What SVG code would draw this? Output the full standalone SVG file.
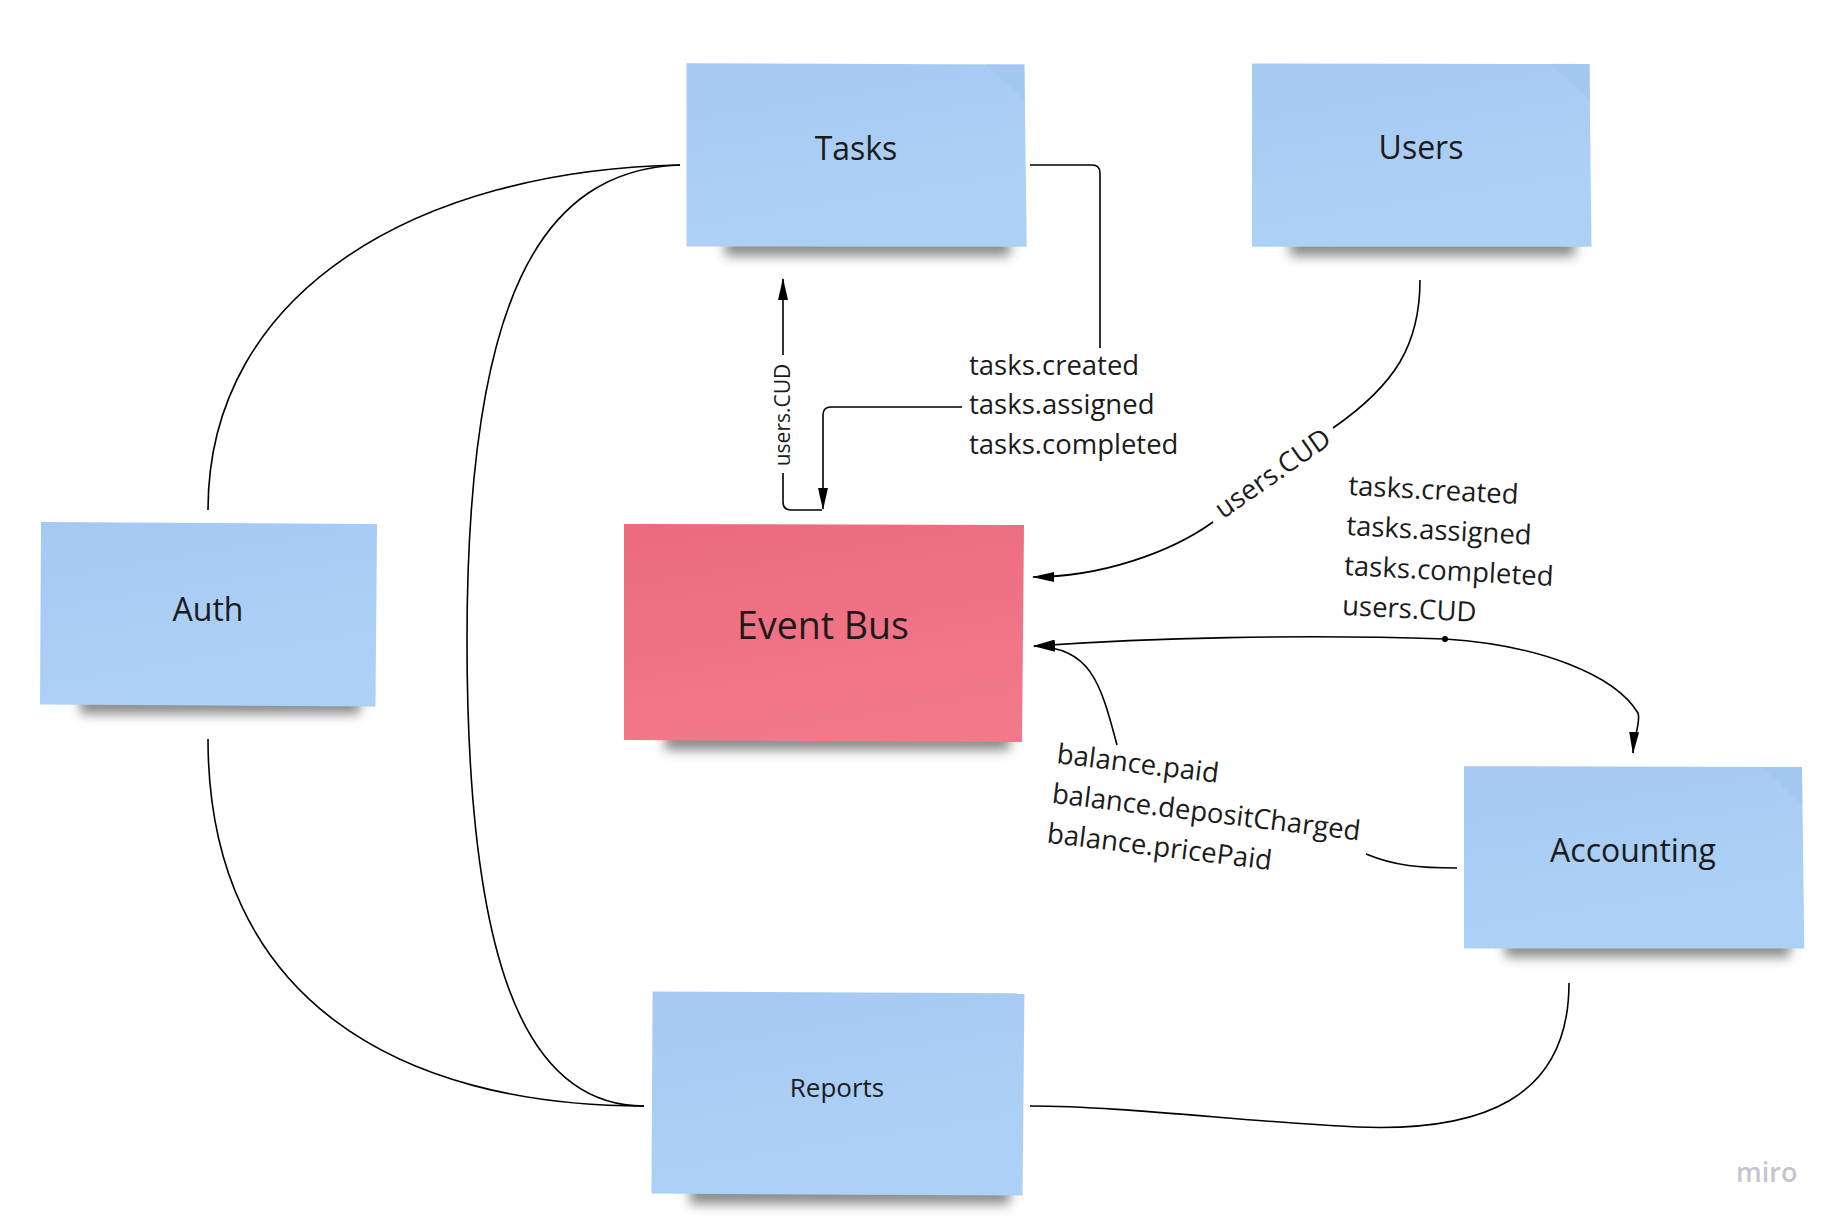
<svg xmlns="http://www.w3.org/2000/svg" width="1837" height="1224" viewBox="0 0 1837 1224">
<style>
.note-b{fill:url(#gB)}
.note-r{fill:url(#gR)}
.fold{fill:#9dc3ee;opacity:.45}
.shadow{fill:#3a3a3a;opacity:.6;filter:url(#blur)}
.title{font-family:"Open Sans","Noto Sans",sans-serif;font-size:32px;fill:#1b1b1b;text-anchor:middle}
.lbl{font-family:"Open Sans","Noto Sans",sans-serif;font-size:27.5px;fill:#1b1b1b}
.conn{fill:none;stroke:#000;stroke-width:1.6}
</style>
<defs>
<linearGradient id="gB" x1="0" y1="0" x2="0.3" y2="1">
<stop offset="0" stop-color="#a5c9f1"/>
<stop offset="1" stop-color="#add1f6"/>
</linearGradient>
<linearGradient id="gR" x1="0" y1="0" x2="0.3" y2="1">
<stop offset="0" stop-color="#ec6a7e"/>
<stop offset="1" stop-color="#f27989"/>
</linearGradient>
<filter id="blur" x="-20%" y="-100%" width="140%" height="300%">
<feGaussianBlur stdDeviation="6"/>
</filter>
<marker id="arr" markerUnits="userSpaceOnUse" viewBox="0 0 22 10" refX="21" refY="5" markerWidth="22" markerHeight="10" orient="auto">
<path d="M0,0 L22,5 L0,10 Z" fill="#000"/>
</marker>
</defs>
<rect width="1837" height="1224" fill="#ffffff"/>

<g id="connectors">
<path class="conn" d="M1030,165 H1092 Q1100,165 1100,173 V348"/>
<path class="conn" d="M962,407 H831 Q823,407 823,415 V509" marker-end="url(#arr)"/>
<path class="conn" d="M822,510 H791 Q783,510 783,502 V473"/>
<path class="conn" d="M783,355 V279" marker-end="url(#arr)"/>
<path class="conn" d="M1420,280 C1420,345 1395,385 1333,428"/>
<path class="conn" d="M1213,522 C1170,553 1100,577 1033,577" marker-end="url(#arr)"/>
<path class="conn" d="M1457,868 C1420,868 1395,866 1366,854"/>
<path class="conn" d="M1117,745 C1100,680 1090,648 1034,646" marker-end="url(#arr)"/>
<path class="conn" d="M1445,639 C1300,634 1150,638 1034,646" marker-end="url(#arr)"/>
<path class="conn" d="M1445,639 C1540,645 1615,675 1638,713 C1641,722 1634,735 1633,753" marker-end="url(#arr)"/>
<circle cx="1445" cy="639" r="3" fill="#000"/>
<path class="conn" d="M680,165 C420,170 208,290 208,510"/>
<path class="conn" d="M680,165 C540,170 467,300 467,640 C467,950 520,1106 644,1106"/>
<path class="conn" d="M208,739 C208,1000 400,1106 644,1106"/>
<path class="conn" d="M1030,1106 C1120,1106 1250,1122 1357,1127 C1480,1132 1569,1100 1569,983"/>
<text class="lbl"><tspan x="969" y="375">tasks.created</tspan><tspan x="969" y="414">tasks.assigned</tspan><tspan x="969" y="454">tasks.completed</tspan></text>
<text class="lbl" style="font-size:21px" text-anchor="middle" transform="translate(790,415) rotate(-90)">users.CUD</text>
<text class="lbl" text-anchor="middle" transform="translate(1278,481) rotate(-35)">users.CUD</text>
<text class="lbl" transform="rotate(3 1348 495)"><tspan x="1348" y="495">tasks.created</tspan><tspan x="1348" y="535">tasks.assigned</tspan><tspan x="1348" y="575">tasks.completed</tspan><tspan x="1348" y="615">users.CUD</tspan></text>
<text class="lbl" transform="rotate(7 1056 763)"><tspan x="1056" y="763">balance.paid</tspan><tspan x="1056" y="803">balance.depositCharged</tspan><tspan x="1056" y="843">balance.pricePaid</tspan></text>
</g>

<g id="node-tasks">
<rect class="shadow" x="725" y="236" width="285" height="20"/>
<polygon class="note-b" points="686.5,63.2 1024.4,64.4 1026.7,246.7 686.5,246.5"/>
<polygon class="fold" points="985,64.2 1024.4,64.4 1025,100"/>
<text class="title" x="856" y="160">Tasks</text>
</g>
<g id="node-users">
<rect class="shadow" x="1290" y="236" width="285" height="20"/>
<polygon class="note-b" points="1252,63.6 1589.5,64 1591.5,246.7 1252,246.7"/>
<polygon class="fold" points="1550,63.8 1589.5,64 1590,100"/>
<text class="title" x="1421" y="159">Users</text>
</g>
<g id="node-auth">
<rect class="shadow" x="80" y="694" width="280" height="20"/>
<polygon class="note-b" points="41,522 377,524 375.5,706.5 40,704.5"/>
<text class="title" x="208" y="621">Auth</text>
</g>
<g id="node-eventbus">
<rect class="shadow" x="665" y="730" width="345" height="20"/>
<polygon class="note-r" points="624,524 1024,525 1022,742 624,740"/>
<text class="title" style="font-size:37.5px" x="823" y="639">Event Bus</text>
</g>
<g id="node-accounting">
<rect class="shadow" x="1505" y="937" width="285" height="20"/>
<polygon class="note-b" points="1464,766.2 1802,767 1804.3,948.5 1464,948.5"/>
<polygon class="fold" points="1762,766.9 1802,767 1802.5,805"/>
<text class="title" x="1633" y="862">Accounting</text>
</g>
<g id="node-reports">
<rect class="shadow" x="690" y="1184" width="320" height="20"/>
<polygon class="note-b" points="652.6,991.4 1024.4,993.3 1022.6,1195.5 651.4,1193.6"/>
<text class="title" style="font-size:26px" x="837" y="1097">Reports</text>
</g>

<text x="1736" y="1182" style="font-family:'Open Sans','Noto Sans',sans-serif;font-size:27px;font-weight:600;fill:#c4c5cd">miro</text>
</svg>
